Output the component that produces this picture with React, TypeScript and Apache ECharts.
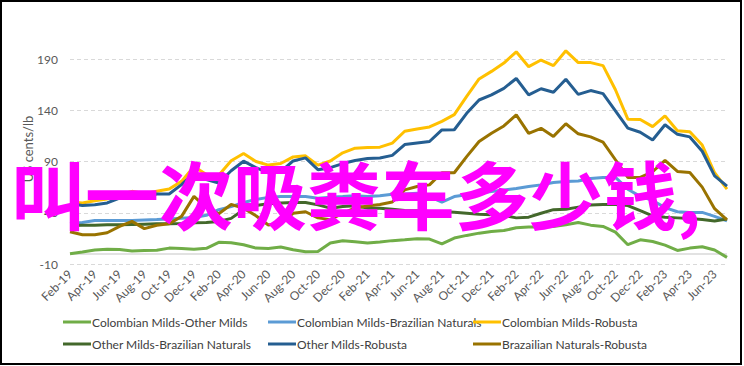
import React, { useEffect, useRef } from "react";
import * as echarts from "echarts";

const months = [
  "Feb-19","Mar-19","Apr-19","May-19","Jun-19","Jul-19","Aug-19","Sep-19","Oct-19","Nov-19","Dec-19","Jan-20",
  "Feb-20","Mar-20","Apr-20","May-20","Jun-20","Jul-20","Aug-20","Sep-20","Oct-20","Nov-20","Dec-20","Jan-21",
  "Feb-21","Mar-21","Apr-21","May-21","Jun-21","Jul-21","Aug-21","Sep-21","Oct-21","Nov-21","Dec-21","Jan-22",
  "Feb-22","Mar-22","Apr-22","May-22","Jun-22","Jul-22","Aug-22","Sep-22","Oct-22","Nov-22","Dec-22","Jan-23",
  "Feb-23","Mar-23","Apr-23","May-23","Jun-23","Jul-23"
];

const colombianOther = [
  0, 1.8, 3.7, 4.4, 4.2, 2.6, 3.2, 3.5, 5.5, 5.1, 4.4, 5.3,
  11.1, 10.8, 8.8, 5.5, 5.2, 6.5, 3.9, 2, 2.3, 10.4, 12.7, 11.7,
  10.4, 11.4, 12.8, 13.6, 14.6, 14.3, 9.7, 15.3, 17.9, 20.1, 21.8, 22.7,
  25.3, 26, 26, 26.6, 28.2, 30.5, 27.9, 26.6, 21.1, 8.8, 13.6, 12,
  8.4, 3.2, 5.5, 6.8, 3.6, -3.5
];

const colombianBrazil = [
  29.3, 30.5, 32.5, 32.5, 32.5, 32.5, 33, 33.4, 34, 34.7, 35.4, 37.5,
  43, 46, 50, 53, 55, 55.8, 55.8, 55.8, 54.2, 55.2, 55.8, 56.5,
  55.8, 56.5, 58, 58.4, 59.1, 55.8, 50.3, 55.8, 57.5, 59.1, 60.7, 62.3,
  63.6, 65.6, 67.2, 69.5, 70.5, 71, 73.5, 74.4, 74.5, 63, 56, 52,
  45, 41, 40.3, 40.3, 36.5, 32
];

const colombianRobusta = [
  50.5, 49.6, 51.8, 53.5, 57.7, 60.9, 58.6, 60.9, 63.2, 70.6, 85.2, 77.2,
  76.5, 90.8, 97.8, 90, 86.5, 88, 94.5, 95.5, 86.5, 90.5, 98.5, 103,
  103.7, 104, 108, 119.5, 121.8, 123.7, 129.2, 135.7, 153.6, 170.5, 177.9, 186,
  197, 182.5, 189, 183.5, 198, 186.5, 186.5, 183.5, 160, 131.3, 131, 124,
  134.5, 120, 119, 106, 79, 63
];

const otherBrazil = [
  27.6, 27.9, 27.9, 28.2, 28.2, 28.6, 28.9, 29.2, 29.2, 29.5, 30.2, 30.5,
  31.5, 34.5, 43, 47, 48.7, 49.4, 50, 50, 47.7, 44.5, 46, 46.8,
  44.5, 44.5, 43.5, 42.2, 41.9, 41.2, 41.2, 40.6, 39.6, 38.6, 38, 37.3,
  35, 35.7, 39.5, 43, 43.5, 45.5, 47.5, 48, 48, 47, 42, 37,
  35.5, 35, 34.5, 33.5, 32, 34
];

const otherRobusta = [
  48.9, 47, 47.9, 49.6, 54.4, 59.9, 55.4, 58.3, 58.3, 67.4, 78.8, 72.3,
  69, 81, 90.3, 84, 79, 80, 90.5, 93.5, 82, 84, 88, 91,
  93, 93.5, 96, 106.5, 108, 109.5, 120.8, 121, 137, 150, 155, 161.4,
  171, 155, 161, 157.5, 170.3, 155.5, 159.2, 156.2, 139.5, 122.5, 118.5, 111,
  125.8, 116.5, 114, 100, 76, 66
];

const brazilRobusta = [
  21.5, 18.6, 18.6, 20.5, 26.7, 31.6, 24.5, 27.8, 29.3, 36.5, 56, 45,
  39, 48, 44.5, 37, 28, 30, 39.5, 41, 35, 33.3, 39.5, 44.7,
  46.5, 48, 50.5, 62.3, 65.6, 67.2, 79, 79, 94.8, 109.5, 117.5, 124.7,
  135.5, 117.5, 122.4, 114.5, 126.8, 117, 114, 109, 91.7, 74.5, 74.5, 80,
  91, 80.3, 79.3, 65, 44, 33
];

const seriesNames = [
  "Colombian Milds-Other Milds",
  "Colombian Milds-Brazilian Naturals",
  "Colombian Milds-Robusta",
  "Other Milds-Brazilian Naturals",
  "Other Milds-Robusta",
  "Brazailian Naturals-Robusta",
];
const seriesData = [colombianOther, colombianBrazil, colombianRobusta, otherBrazil, otherRobusta, brazilRobusta];
const seriesColors = ["#70AD47", "#5B9BD5", "#FFC000", "#43682B", "#255E91", "#997300"];

const yTicks = { min: -10, max: 190, interval: 50 };
const axisTitle = "US cents/lb";
const overlayText = "叫一次吸粪车多少钱,";

const FONT = "Lato, 'Open Sans', sans-serif";

export default function App() {
  const ref = useRef<HTMLDivElement>(null);
  useEffect(() => {
    document.body.style.margin = "0";
    const chart = echarts.init(ref.current!, null, { renderer: "svg" });
    const legendPos = [
      { left: 63, top: 316 },
      { left: 268, top: 316 },
      { left: 473, top: 316 },
      { left: 63, top: 338 },
      { left: 268, top: 338 },
      { left: 473, top: 338 },
    ];
    const series: any[] = seriesNames.map((name, i) => ({
      name,
      type: "line",
      data: seriesData[i],
      symbol: "none",
      clip: false,
      lineStyle: { color: seriesColors[i], width: 3 },
      itemStyle: { color: seriesColors[i] },
      z: 3,
    }));
    series[0].markLine = {
      silent: true,
      symbol: "none",
      label: { show: false },
      lineStyle: { color: "#D9D9D9", type: "solid", width: 1.5 },
      data: [{ yAxis: 0 }],
      z: 1,
    };
    chart.setOption({
      animation: false,
      backgroundColor: "#ffffff",
      textStyle: { fontFamily: FONT },
      grid: { left: 70, right: 17, top: 59, bottom: 102 },
      xAxis: {
        type: "category",
        data: months,
        boundaryGap: false,
        axisLine: { show: false },
        axisTick: { show: false },
        axisLabel: {
          interval: 1,
          rotate: 45,
          margin: 8,
          color: "#595959",
          fontSize: 12,
          fontFamily: FONT,
        },
      },
      yAxis: {
        type: "value",
        min: yTicks.min,
        max: yTicks.max,
        interval: yTicks.interval,
        axisLine: { show: false },
        axisTick: { show: false },
        axisLabel: { color: "#595959", fontSize: 12, margin: 12, fontFamily: FONT },
        splitLine: { lineStyle: { color: "#D9D9D9", type: [4, 3], width: 1 } },
      },
      legend: seriesNames.map((name, i) => ({
        data: [name],
        left: legendPos[i].left,
        top: legendPos[i].top,
        icon: "rect",
        itemWidth: 28,
        itemHeight: 3,
        padding: 0,
        textStyle: { color: "#404040", fontSize: 12, fontFamily: FONT, padding: [0, 0, 0, -4] },
      })),
      series,
      graphic: [
        {
          type: "rect",
          shape: { x: 1, y: 1, width: 740, height: 363 },
          style: { fill: "none", stroke: "#000000", lineWidth: 2 },
          z: 50,
        },
        {
          type: "text",
          x: 28,
          y: 149,
          rotation: Math.PI / 2,
          style: {
            text: axisTitle,
            fill: "#595959",
            fontSize: 13,
            fontFamily: FONT,
            align: "center",
            verticalAlign: "middle",
          },
          z: 10,
        },
        {
          type: "text",
          x: 11,
          y: 191,
          style: {
            text: overlayText,
            fill: "#FF00FF",
            fontSize: 74,
            fontWeight: "bold",
            fontFamily: "'Noto Sans CJK SC', sans-serif",
            align: "left",
            verticalAlign: "middle",
          },
          z: 100,
        },
      ],
    });
    return () => chart.dispose();
  }, []);
  return (
    <div
      ref={ref}
      style={{ position: "fixed", left: 0, top: 0, width: 744, height: 366 }}
    />
  );
}
